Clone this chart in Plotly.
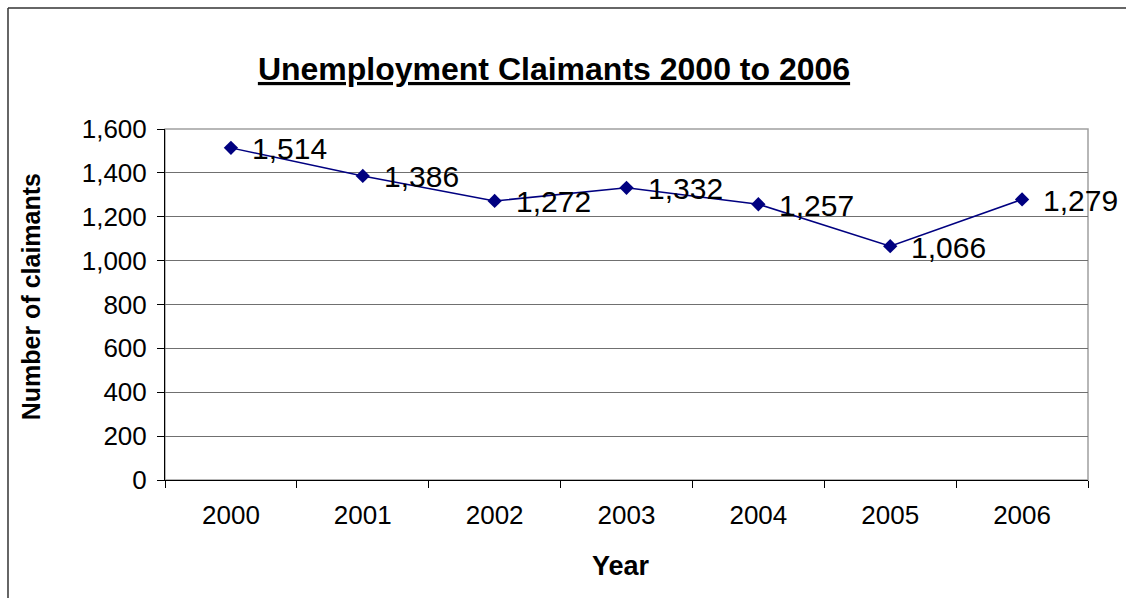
import plotly.graph_objects as go

years = ["2000", "2001", "2002", "2003", "2004", "2005", "2006"]
claimants = [1514, 1386, 1272, 1332, 1257, 1066, 1279]
labels = ["1,514", "1,386", "1,272", "1,332", "1,257", "1,066", "1,279"]
y_ticks = [0, 200, 400, 600, 800, 1000, 1200, 1400, 1600]

FONT = "Liberation Sans, Arial, sans-serif"
NAVY = "#000080"

fig = go.Figure()
fig.add_trace(go.Scatter(
    x=years, y=claimants, mode="lines+markers",
    line=dict(color=NAVY, width=1.5),
    marker=dict(symbol="diamond", size=11, color=NAVY),
    cliponaxis=False, showlegend=False,
))

for i, (v, lab) in enumerate(zip(claimants, labels)):
    fig.add_annotation(x=i, y=v, xref="x", yref="y", text=lab, showarrow=False,
                       xanchor="left", yanchor="middle", xshift=19, yshift=-1,
                       font=dict(family=FONT, size=30, color="black"))

# axis titles
fig.add_annotation(x=0.494, y=-0.245, xref="paper", yref="paper",
                   text="<b>Year</b>", showarrow=False,
                   xanchor="center", yanchor="middle",
                   font=dict(family=FONT, size=27, color="black"))
fig.add_annotation(x=-0.145, y=0.521, xref="paper", yref="paper",
                   text="<b>Number of claimants</b>", showarrow=False,
                   textangle=-90, xanchor="center", yanchor="middle",
                   font=dict(family=FONT, size=25, color="black"))

fig.update_layout(
    width=1126, height=598,
    margin=dict(l=165, r=38, t=129, b=118),
    paper_bgcolor="white", plot_bgcolor="white",
    font=dict(family=FONT, color="black"),
    title=dict(text="<b><u>Unemployment Claimants 2000 to 2006</u></b>",
               x=0.492, xanchor="center", y=0.885, yanchor="middle",
               font=dict(size=32, family=FONT, color="black")),
    xaxis=dict(type="category", categoryorder="array", categoryarray=years,
               range=[-0.5, len(years) - 0.5],
               tickson="boundaries", ticks="outside", tickangle=0,
               ticklen=7, tickcolor="black", showline=True, linecolor="black",
               linewidth=1, showgrid=False, ticklabelstandoff=12,
               tickfont=dict(size=26, family=FONT)),
    yaxis=dict(range=[0, 1600], tickvals=y_ticks, tickformat=",",
               ticks="outside", ticklen=7, tickcolor="black",
               showline=True, linecolor="black", linewidth=1,
               showgrid=True, gridcolor="#707070", gridwidth=1, zeroline=False,
               ticklabelstandoff=5,
               tickfont=dict(size=26, family=FONT)),
)

# plot area border (top/right) in light gray
fig.add_shape(type="rect", xref="x domain", yref="y domain",
              x0=0, x1=1, y0=0, y1=1, line=dict(color="#a0a0a0", width=1.5),
              layer="below")
# outer chart frame (only left and top edges fall inside the picture)
fig.add_shape(type="line", xref="paper", yref="paper",
              x0=-0.1701, x1=-0.1701, y0=-0.4, y1=1.3447,
              line=dict(color="#333333", width=1.5))
fig.add_shape(type="line", xref="paper", yref="paper",
              x0=-0.1701, x1=1.1, y0=1.3447, y1=1.3447,
              line=dict(color="#333333", width=1.5))

fig.write_html(
    "out.html", config={"displayModeBar": False},
    post_script=("document.body.style.margin='0';"
                 "document.body.style.overflow='hidden';"
                 "document.documentElement.style.overflow='hidden';"))
